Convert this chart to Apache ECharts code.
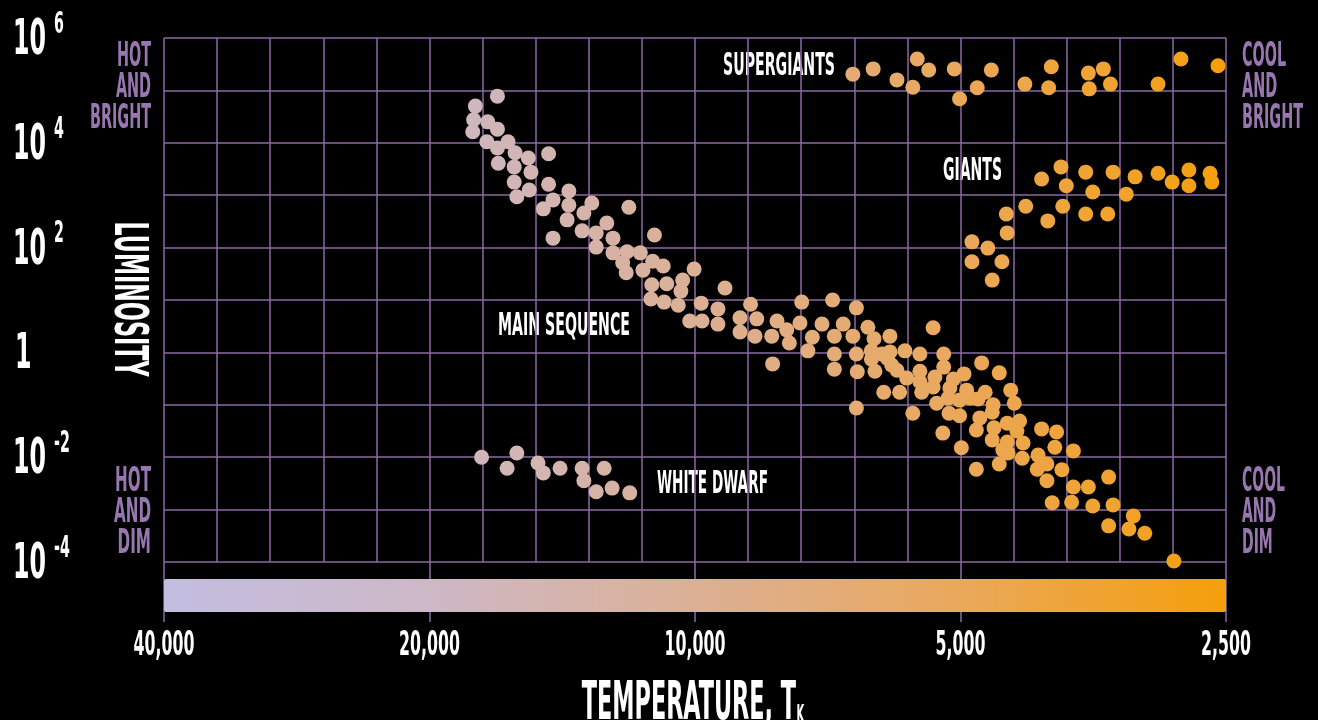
<!DOCTYPE html>
<html>
<head>
<meta charset="utf-8">
<script src="https://cdn.jsdelivr.net/npm/echarts@6.0.0/dist/echarts.min.js"></script>
<style>
  html, body { margin: 0; padding: 0; background: #000; }
  #chart { width: 1318px; height: 720px; }
</style>
</head>
<body>
<div id="chart"></div>
<script>
// H-R diagram. temperatures stored as log10(K), luminosity as log10(L / Lsun)
const superLogT = [3.821, 3.798, 3.771, 3.748, 3.753, 3.735, 3.706, 3.700, 3.680, 3.664, 3.626, 3.599, 3.596, 3.554, 3.537, 3.553, 3.529, 3.475, 3.449, 3.407];
const superLogL = [5.31, 5.41, 5.20, 5.60, 5.06, 5.39, 5.41, 4.84, 5.05, 5.39, 5.12, 5.05, 5.45, 5.33, 5.41, 5.03, 5.12, 5.12, 5.60, 5.47];

const giantLogT = [3.607, 3.585, 3.579, 3.557, 3.549, 3.526, 3.501, 3.511, 3.475, 3.459, 3.440, 3.440, 3.416, 3.414,
  3.625, 3.647, 3.600, 3.583, 3.557, 3.532, 3.646, 3.686, 3.668, 3.686, 3.652, 3.663];
const giantLogL = [3.31, 3.54, 3.18, 3.44, 3.06, 3.44, 3.35, 3.02, 3.42, 3.25, 3.48, 3.18, 3.42, 3.25,
  2.79, 2.64, 2.51, 2.79, 2.64, 2.64, 2.28, 2.11, 1.99, 1.73, 1.73, 1.38];

const dwarfLogT = [4.242, 4.202, 4.213, 4.178, 4.172, 4.153, 4.128, 4.103, 4.126, 4.112, 4.094, 4.074];
const dwarfLogL = [-2.00, -1.92, -2.21, -2.11, -2.30, -2.21, -2.21, -2.21, -2.45, -2.66, -2.59, -2.68];

const mainLogT = [
  4.224, 4.249, 4.251, 4.235, 4.224, 4.252, 4.236, 4.212, 4.224, 4.204, 4.189, 4.166, 4.223, 4.205, 4.186, 4.205,
  4.166, 4.188, 4.202, 4.143, 4.161, 4.172, 4.143, 4.117, 4.126, 4.075, 4.145, 4.161, 4.128, 4.100, 4.112, 4.093,
  4.046, 4.112, 4.093, 4.077, 4.062, 4.082, 4.048, 4.036, 4.059, 4.078, 4.001, 4.049, 4.032, 4.014, 4.016, 3.966,
  4.050, 4.035, 4.019, 3.993, 3.974, 4.006, 3.992, 3.974, 3.949,
  3.949, 3.937, 3.930, 3.932, 3.913, 3.907, 3.896, 3.893, 3.912, 3.879, 3.881, 3.867, 3.872, 3.844, 3.856, 3.842,
  3.832, 3.842, 3.842, 3.817, 3.821, 3.817, 3.816, 3.817,
  3.804, 3.797, 3.800, 3.788, 3.779, 3.779, 3.800, 3.782, 3.777, 3.771, 3.796, 3.762, 3.760, 3.745, 3.745, 3.745,
  3.730, 3.718, 3.718, 3.728, 3.707, 3.695, 3.786, 3.768, 3.743, 3.730, 3.711, 3.692, 3.671, 3.726, 3.713, 3.700,
  3.688, 3.679, 3.662, 3.712, 3.700, 3.677, 3.663, 3.753, 3.675, 3.655, 3.719, 3.681, 3.661, 3.698, 3.663, 3.681,
  3.642, 3.638, 3.646, 3.632, 3.635, 3.607, 3.590, 3.646, 3.628, 3.651, 3.645, 3.629, 3.611, 3.592, 3.571, 3.612,
  3.601, 3.584, 3.655, 3.601, 3.571, 3.554, 3.531, 3.595, 3.573, 3.549, 3.526, 3.503, 3.531, 3.508, 3.490, 3.457
];
const mainLogL = [
  4.89, 4.70, 4.44, 4.40, 4.26, 4.21, 4.02, 4.02, 3.90, 3.81, 3.71, 3.79, 3.61, 3.54, 3.44, 3.25,
  3.21, 3.10, 2.97, 3.08, 2.91, 2.74, 2.81, 2.85, 2.66, 2.77, 2.53, 2.18, 2.32, 2.47, 2.28, 2.18,
  2.24, 2.01, 1.90, 1.92, 1.90, 1.71, 1.74, 1.65, 1.57, 1.52, 1.59, 1.29, 1.31, 1.38, 1.17, 1.23,
  1.02, 0.96, 0.90, 0.94, 0.83, 0.60, 0.60, 0.54, 0.66,
  0.39, 0.92, 0.64, 0.31, 0.31, 0.60, 0.43, 0.18, -0.22, 0.96, 0.56, 0.29, 0.03, 1.00, 0.54, 0.31,
  0.54, -0.03, -0.32, 0.85, 0.31, -0.03, -0.37, -1.06,
  0.48, 0.26, 0.03, -0.03, 0.01, 0.31, -0.13, -0.11, -0.24, -0.34, -0.36, 0.03, -0.49, -0.03, -0.36, -0.56,
  0.47, -0.03, -0.28, -0.47, -0.51, -0.41, -0.76, -0.76, -0.76, -0.66, -0.68, -0.72, -0.76, -0.97, -0.87, -0.91,
  -0.87, -0.89, -1.00, -1.16, -1.21, -1.25, -1.14, -1.16, -0.20, -0.39, -1.54, -1.48, -1.44, -1.82, -1.67, -2.23,
  -0.72, -0.97, -1.35, -1.31, -1.50, -1.46, -1.52, -1.71, -1.73, -1.86, -1.92, -2.02, -1.96, -1.81, -1.88, -2.23,
  -2.13, -2.24, -2.13, -2.45, -2.57, -2.57, -2.38, -2.87, -2.86, -2.93, -2.91, -3.12, -3.31, -3.37, -3.45, -3.98
];

const tempTicks = [40000, 20000, 10000, 5000, 2500];
const lumTicks = [6, 4, 2, 0, -2, -4]; // exponents of 10
const barColors = ['#c3bde1', '#cdb8c6', '#dcb095', '#eaa85b', '#f59f0b'];

const FONT = '"Liberation Sans Narrow", "DejaVu Sans Condensed", sans-serif';
const GRID = '#8b6aa5';
const PURPLE = '#9877b0';

// x axis runs in fifths of an octave below 40,000 K
const STEP = Math.log10(2) / 5;
const toX = lt => (Math.log10(40000) - lt) / STEP;
const points = (ts, ls) => ts.map((t, i) => [toX(t), ls[i]]);

// the reference uses a very condensed face, so squeeze text horizontally
const ctx = document.createElement('canvas').getContext('2d');
function squeeze(text, size, width) {
  ctx.font = 'bold ' + size + 'px ' + FONT;
  return width / ctx.measureText(text).width;
}
function textEl(text, x, y, size, scale, color, align) {
  return {
    type: 'text', x: x, y: y, scaleX: scale,
    style: { text: text, fill: color, fontSize: size, fontWeight: 'bold', fontFamily: FONT,
      align: align || 'left', verticalAlign: 'middle', lineHeight: 31 }
  };
}
function label(text, x, y, size, width, widest, color, align) {
  return textEl(text, x, y, size, squeeze(widest || text, size, width), color, align);
}

const chart = echarts.init(document.getElementById('chart'));

const option = {
  backgroundColor: '#000',
  animation: false,
  grid: { left: 164, right: 92, top: 38, bottom: 158 },
  xAxis: [
    {
      type: 'value', min: 0, max: 20, interval: 1,
      axisLine: { show: false }, axisTick: { show: false }, axisLabel: { show: false },
      splitLine: { show: true, lineStyle: { color: GRID, width: 1.5 } }
    },
    {
      type: 'value', min: 0, max: 20, interval: 5, position: 'bottom',
      axisLine: { show: false }, axisLabel: { show: false }, splitLine: { show: false },
      axisTick: { show: true, length: 60, lineStyle: { color: GRID, width: 1.5 } }
    }
  ],
  yAxis: {
    type: 'value', min: -4, max: 6, interval: 1,
    axisLine: { show: false }, axisTick: { show: false }, axisLabel: { show: false },
    splitLine: { show: true, lineStyle: { color: GRID, width: 1.5 } }
  },
  visualMap: {
    type: 'continuous', min: 0, max: 20, dimension: 0, seriesIndex: [0, 1, 2, 3],
    orient: 'horizontal', left: 164, top: 579, itemWidth: 33, itemHeight: 1062,
    padding: 0, calculable: false, hoverLink: false, text: null,
    inRange: { color: barColors }
  },
  series: [
    { name: 'Supergiants', data: points(superLogT, superLogL) },
    { name: 'Giants', data: points(giantLogT, giantLogL) },
    { name: 'Main sequence', data: points(mainLogT, mainLogL) },
    { name: 'White dwarfs', data: points(dwarfLogT, dwarfLogL) }
  ].map(s => Object.assign({ type: 'scatter', symbolSize: 15, itemStyle: { opacity: 1 } }, s)),
  graphic: [
    label('HOT\nAND\nBRIGHT', 151, 88, 33, 61, 'BRIGHT', PURPLE, 'right'),
    label('COOL\nAND\nBRIGHT', 1242, 88, 33, 61, 'BRIGHT', PURPLE, 'left'),
    label('HOT\nAND\nDIM', 151, 513, 33, 36, 'HOT', PURPLE, 'right'),
    label('COOL\nAND\nDIM', 1242, 513, 33, 43, 'COOL', PURPLE, 'left'),
    label('SUPERGIANTS', 723, 67, 32, 112, null, '#fff'),
    label('GIANTS', 943, 172, 32, 59, null, '#fff'),
    label('MAIN SEQUENCE', 498, 327, 32, 132, null, '#fff'),
    label('WHITE DWARF', 657, 485, 32, 111, null, '#fff'),
    {
      type: 'text', x: 127, y: 299, rotation: -Math.PI / 2,
      scaleX: squeeze('LUMINOSITY', 47, 155),
      style: { text: 'LUMINOSITY', fill: '#fff', fontSize: 47, fontWeight: 'bold', fontFamily: FONT,
        align: 'center', verticalAlign: 'middle' }
    },
    {
      type: 'text', x: 693, y: 705,
      scaleX: 222 / (1 / squeeze('TEMPERATURE, T', 54, 1) + 1 / squeeze('K', 24, 1)),
      style: {
        text: '{a|TEMPERATURE, T}{k|K}', align: 'center', verticalAlign: 'middle',
        rich: {
          a: { fill: '#fff', fontSize: 54, fontWeight: 'bold', fontFamily: FONT, verticalAlign: 'bottom' },
          k: { fill: '#fff', fontSize: 24, fontWeight: 'bold', fontFamily: FONT, verticalAlign: 'bottom',
            padding: [0, 0, 4, 1] }
        }
      }
    }
  ]
};

chart.setOption(option);

// tick labels, placed at the positions the axes give for each tick value
const bottomY = chart.convertToPixel({ yAxisIndex: 0 }, -4);
const xScale = squeeze('20,000', 34, 61);
const tenScale = squeeze('10', 50, 33);
const tickLabels = [];
tempTicks.forEach((t, i) => {
  const px = chart.convertToPixel({ xAxisIndex: 1 }, i * 5);
  tickLabels.push(textEl(t.toLocaleString('en-US'), px, bottomY + 84, 34, xScale, '#fff', 'center'));
});
lumTicks.forEach(p => {
  const py = chart.convertToPixel({ yAxisIndex: 0 }, p);
  if (p === 0) {
    tickLabels.push(textEl('1', 15, py + 3, 50, tenScale, '#fff', 'left'));
    return;
  }
  tickLabels.push(textEl('10', 13, py + 3, 50, tenScale, '#fff', 'left'));
  tickLabels.push(textEl(String(p), 54, py - 13, 30, tenScale, '#fff', 'left'));
});

chart.setOption({ graphic: option.graphic.concat(tickLabels) });
</script>
</body>
</html>
